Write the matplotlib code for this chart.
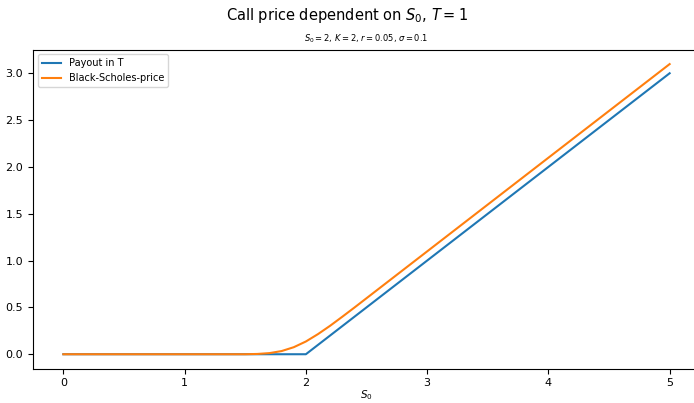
import matplotlib
matplotlib.use("Agg")
import matplotlib.pyplot as plt

# payout max(S0 - K, 0)
payout_s = [0, 2, 5]
payout_v = [0.0, 0.0, 3.0]

# Black-Scholes price
bs_s = [0, 0.5, 1.0, 1.5, 1.6, 1.7, 1.8, 1.9, 2.0, 2.1, 2.2, 2.3, 2.4, 2.5,
        2.75, 3.0, 3.5, 4.0, 4.5, 5.0]
bs_v = [0.0, 0.0, 0.0, 0.0, 0.003, 0.012, 0.034, 0.075, 0.136, 0.215, 0.304,
        0.40, 0.498, 0.598, 0.848, 1.098, 1.598, 2.098, 2.598, 3.098]

fig = plt.figure(figsize=(6.94, 4.03), dpi=100)
ax = fig.add_axes([0.0476, 0.085, 0.961, 0.792])

ax.plot(payout_s, payout_v, label='Payout in T')
ax.plot(bs_s, bs_v, label='Black-Scholes-price')
ax.set_xlabel('$S_0$', fontsize=7.5, labelpad=0)
ax.set_title(r'$S_0 = 2$, $K = 2$, $r = 0.05$, $\sigma = 0.1$', fontsize=6)
fig.suptitle('Call price dependent on $S_0$, $T = 1$', fontsize=10.5, y=0.985)
ax.tick_params(labelsize=8)
ax.tick_params(axis='x', pad=3)
ax.legend(fontsize=7, loc='upper left')

fig.savefig('out.png', dpi=100)
